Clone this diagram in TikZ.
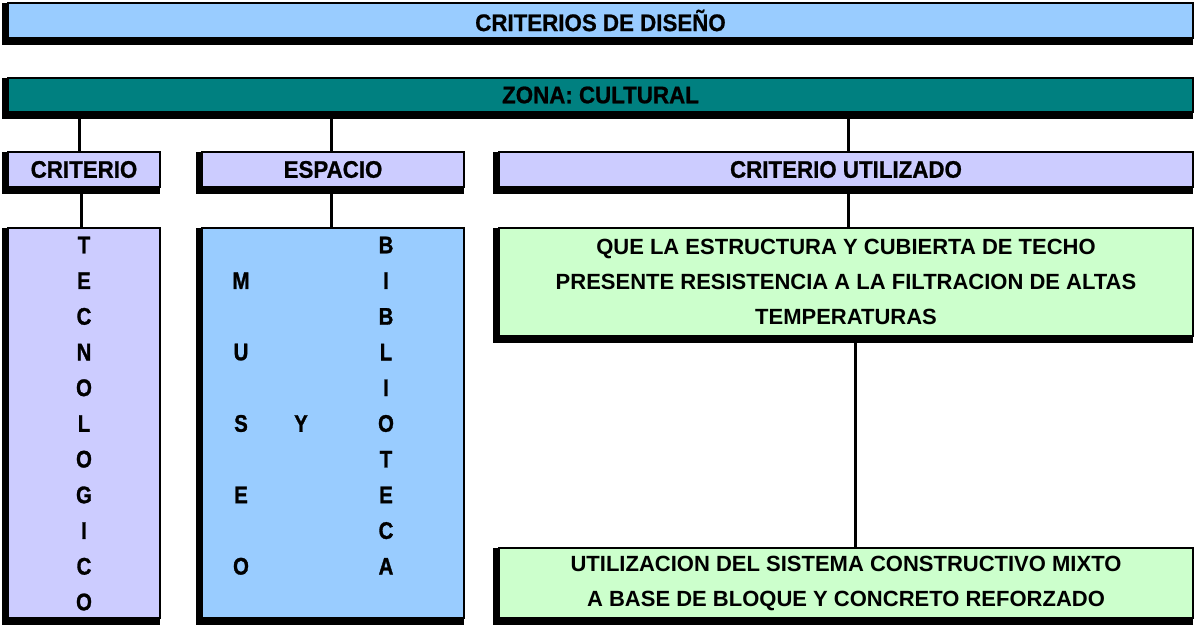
\documentclass[tikz,border=0pt]{standalone}
\usepackage{fontspec}
\setmainfont{Liberation Sans}
\newfontfamily\letrafont[UprightFont=* Bold, FakeBold=1.2, FakeStretch=0.85]{Liberation Sans}
\newfontfamily\gruesafont[UprightFont=* Bold, FakeBold=0.8, FakeStretch=0.93]{Liberation Sans}
\usetikzlibrary{backgrounds}

\definecolor{celeste}{HTML}{99CCFF}
\definecolor{verdeazul}{HTML}{008080}
\definecolor{lila}{HTML}{CCCCFF}
\definecolor{verdeclaro}{HTML}{CCFFCC}

\tikzset{
  caja/.style={draw=black, line width=2.5pt, inner sep=0pt, outer sep=0pt,
    anchor=north west, align=center,
    font=\fontsize{24}{28}\selectfont\gruesafont},
  texto/.style={font=\fontsize{22}{35}\selectfont\bfseries},
  letra/.style={font=\fontsize{24}{28}\selectfont\letrafont, inner sep=0pt},
  linea/.style={line width=3pt},
}

\begin{document}
\begin{tikzpicture}[x=1pt,y=-1pt]
  \useasboundingbox (0,0) rectangle (1194,625);

  % cabeceras
  \node[caja, fill=celeste, minimum width=1185, minimum height=35] (titulo) at (8,3) {CRITERIOS DE DISEÑO};
  \node[caja, fill=verdeazul, minimum width=1185, minimum height=34] (zona) at (8,78) {ZONA: CULTURAL};
  \node[caja, fill=lila, minimum width=152, minimum height=35] (criterio) at (8,152) {CRITERIO};
  \node[caja, fill=lila, minimum width=262, minimum height=35] (espacio) at (202,152) {ESPACIO};
  \node[caja, fill=lila, minimum width=694, minimum height=35] (utilizado) at (499,152) {CRITERIO UTILIZADO};

  % cajas de contenido
  \node[caja, fill=lila, minimum width=152, minimum height=390] (tecno) at (8,228) {};
  \node[caja, fill=celeste, minimum width=262, minimum height=390] (museo) at (202,228) {};
  \node[caja, texto, fill=verdeclaro, minimum width=694, minimum height=108] (req) at (499,228)
    {QUE LA ESTRUCTURA Y CUBIERTA DE TECHO\\PRESENTE RESISTENCIA A LA FILTRACION DE ALTAS\\TEMPERATURAS};
  \node[caja, texto, fill=verdeclaro, minimum width=694, minimum height=70] (sistema) at (499,548)
    {UTILIZACION DEL SISTEMA CONSTRUCTIVO MIXTO\\A BASE DE BLOQUE Y CONCRETO REFORZADO};

  % sombras
  \begin{scope}[on background layer]
    \foreach \n in {titulo,zona,criterio,espacio,utilizado,tecno,museo,req,sistema}
      \fill[black] ([xshift=-6pt]\n.north west) rectangle ([yshift=-7pt]\n.south east);
  \end{scope}

  % letras verticales
  \foreach \l [count=\k from 0] in {T,E,C,N,O,L,O,G,I,C,O}
    \node[letra] (t\k) at (84,245+35.7*\k) {\l};
  \foreach \l [count=\k from 0] in {B,I,B,L,I,O,T,E,C,A}
    \node[letra] (b\k) at (386,245+35.7*\k) {\l};
  \foreach \l [count=\k from 0] in {M,U,S,E,O}
    \node[letra] (m\k) at (241,245+35.7+71.4*\k) {\l};
  \node[letra] (y) at (301,245+35.7*5) {Y};

  % conectores
  \draw[linea] ([xshift=-5pt]criterio.north) -- ([xshift=-5pt]criterio.north |- zona.south);
  \draw[linea] ([xshift=-3pt]tecno.north) -- ([xshift=-3pt]tecno.north |- criterio.south);
  \draw[linea] ([xshift=-2pt]espacio.north) -- ([xshift=-2pt]espacio.north |- zona.south);
  \draw[linea] ([xshift=-2pt]museo.north) -- ([xshift=-2pt]museo.north |- espacio.south);
  \draw[linea] ([xshift=2pt]utilizado.north) -- ([xshift=2pt]utilizado.north |- zona.south);
  \draw[linea] ([xshift=2pt]req.north) -- ([xshift=2pt]req.north |- utilizado.south);
  \draw[linea] ([xshift=9pt]sistema.north) -- ([xshift=9pt]sistema.north |- req.south);
\end{tikzpicture}
\end{document}
